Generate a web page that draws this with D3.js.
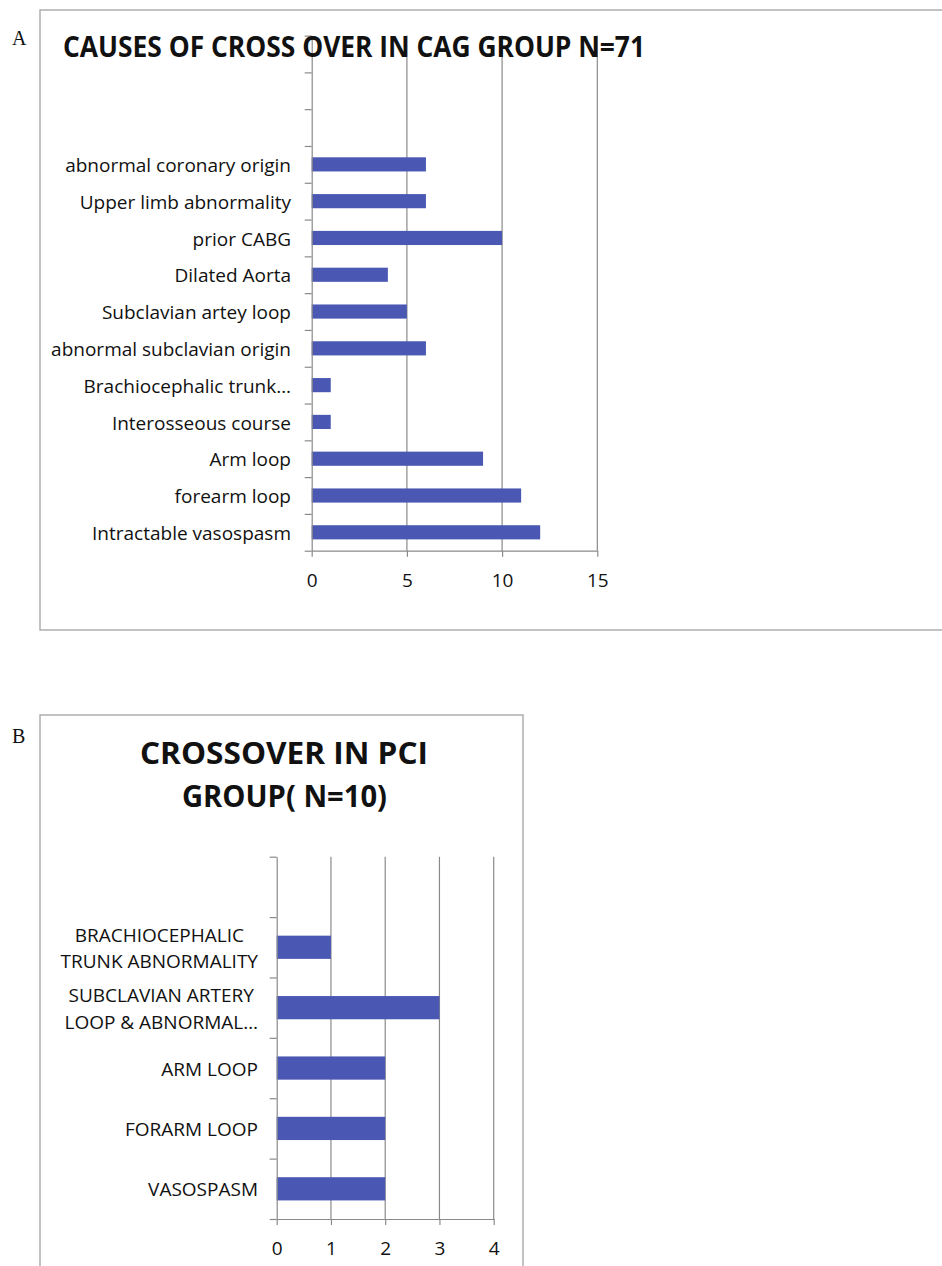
<!DOCTYPE html>
<html>
<head>
<meta charset="utf-8">
<script src="https://cdn.jsdelivr.net/npm/d3@7"></script>
<style>
  html, body { margin: 0; padding: 0; background: #fff; }
  svg { display: block; }
  text { font-family: "Open Sans", "Noto Sans", sans-serif; fill: #111; }
</style>
</head>
<body>
<svg id="fig" width="942" height="1266"></svg>
<script>
// Panel A: causes of crossover in the CAG group (bottom to top)
const catsA = [
  "Intractable vasospasm",
  "forearm loop",
  "Arm loop",
  "Interosseous course",
  "Brachiocephalic trunk…",
  "abnormal subclavian origin",
  "Subclavian artey loop ",
  "Dilated Aorta",
  "prior CABG",
  "Upper limb abnormality",
  "abnormal coronary origin"
];
const valuesA = [12, 11, 9, 1, 1, 6, 5, 4, 10, 6, 6];
const ticksA = [0, 5, 10, 15];
const titleA = ["CAUSES OF CROSS OVER IN CAG GROUP N=71"];

// Panel B: crossover in the PCI group (bottom to top)
const catsB = [
  "VASOSPASM",
  "FORARM LOOP",
  "ARM LOOP",
  "SUBCLAVIAN ARTERY\nLOOP & ABNORMAL…",
  "BRACHIOCEPHALIC\nTRUNK ABNORMALITY"
];
const valuesB = [2, 2, 2, 3, 1];
const ticksB = [0, 1, 2, 3, 4];
const titleB = ["CROSSOVER IN PCI", "GROUP( N=10)"];

const BAR = "#4a58b3";
const GRID = "#8a8a8a";
const FRAME = "#a8a8a8";

const svg = d3.select("#fig");

function panel(o) {
  const g = svg.append("g");

  // frame around the panel
  g.append("rect")
    .attr("x", o.box[0]).attr("y", o.box[1])
    .attr("width", o.box[2]).attr("height", o.box[3])
    .attr("fill", "none").attr("stroke", FRAME).attr("stroke-width", 1.4);

  // panel letter
  g.append("text")
    .attr("x", o.letterPos[0]).attr("y", o.letterPos[1])
    .style("font-family", "'Liberation Serif', 'DejaVu Serif', serif")
    .style("font-size", "20px")
    .text(o.letter);

  const slots = o.cats.length + o.blank;
  const domain = o.cats.concat(d3.range(o.blank).map(i => "__blank" + i));

  const x = d3.scaleLinear().domain([o.ticks[0], o.ticks[o.ticks.length - 1]]).range(o.xr);
  const y = d3.scaleBand().domain(domain).range([o.bottom, o.top]).padding(0);
  const slot = d3.scaleLinear().domain([0, slots]).range([o.bottom, o.top]);
  const bw = y.bandwidth();
  const frac = 1 / 2.6; // gap width 160%

  // vertical gridlines
  g.append("g").selectAll("line")
    .data(o.ticks.slice(1))
    .join("line")
    .attr("x1", d => x(d)).attr("x2", d => x(d))
    .attr("y1", o.top).attr("y2", o.bottom)
    .attr("stroke", GRID).attr("stroke-width", 1.2);

  // bars
  g.append("g").selectAll("rect")
    .data(o.cats.map((c, i) => ({ c, v: o.vals[i] })))
    .join("rect")
    .attr("x", x(0))
    .attr("y", d => y(d.c) + bw * (1 - frac) / 2)
    .attr("width", d => x(d.v) - x(0))
    .attr("height", bw * frac)
    .attr("fill", BAR);

  // category axis with ticks on slot boundaries
  const ya = g.append("g")
    .attr("transform", `translate(${x(0)},0)`)
    .call(d3.axisLeft(slot).tickValues(d3.range(slots + 1)).tickSize(7).tickSizeOuter(0).tickFormat(""));
  ya.selectAll("path, line").attr("stroke", GRID).attr("stroke-width", 1.2);

  // value axis
  const xa = g.append("g")
    .attr("transform", `translate(0,${o.bottom})`)
    .call(d3.axisBottom(x).tickValues(o.ticks).tickFormat(d3.format("d")).tickSize(6).tickSizeOuter(0));
  xa.selectAll("path, line").attr("stroke", GRID).attr("stroke-width", 1.2);
  xa.selectAll("text")
    .attr("y", 36).attr("dy", 0)
    .style("font-family", "'Open Sans', sans-serif")
    .style("font-size", "19px")
    .attr("fill", "#111");

  // category labels (multi-line labels are centred as a block)
  const lab = g.append("g");
  o.cats.forEach(c => {
    const lines = c.split("\n");
    const cy = y(c) + bw / 2;
    const t = lab.append("text")
      .style("font-size", "19px");
    if (lines.length === 1) {
      t.attr("x", o.labelRight).attr("y", cy).attr("dy", "0.4em")
        .attr("text-anchor", "end").text(c);
    } else {
      const lh = 26.5;
      const spans = lines.map((s, k) =>
        t.append("tspan").attr("y", cy + (k - (lines.length - 1) / 2) * lh).attr("dy", "0.4em").text(s));
      const w = d3.max(spans, s => s.node().getComputedTextLength());
      const cx = o.labelRight - w / 2;
      t.attr("text-anchor", "middle");
      spans.forEach(s => s.attr("x", cx));
    }
  });

  // chart title
  o.titleLines.forEach((s, k) => {
    g.append("text")
      .attr("x", o.titleX[k]).attr("y", o.titleY[k])
      .attr("text-anchor", o.titleAnchor)
      .attr("textLength", o.titleW[k])
      .attr("lengthAdjust", "spacingAndGlyphs")
      .style("font-weight", 700)
      .style("font-size", o.titleSize + "px")
      .attr("fill", "#000")
      .text(s);
  });
}

panel({
  box: [40, 10, 920, 620],
  letter: "A", letterPos: [12, 45],
  cats: catsA, vals: valuesA, ticks: ticksA, blank: 3,
  xr: [311.7, 597.3], top: 35.6, bottom: 550.7,
  labelRight: 291,
  titleLines: titleA, titleX: [63], titleY: [57], titleW: [582],
  titleAnchor: "start", titleSize: 28
});

panel({
  box: [40, 715, 483, 570],
  letter: "B", letterPos: [12, 743],
  cats: catsB, vals: valuesB, ticks: ticksB, blank: 1,
  xr: [276.7, 493.7], top: 856.7, bottom: 1219,
  labelRight: 258,
  titleLines: titleB, titleX: [284, 284.5], titleY: [764, 807], titleW: [288, 205],
  titleAnchor: "middle", titleSize: 31
});
</script>
</body>
</html>
